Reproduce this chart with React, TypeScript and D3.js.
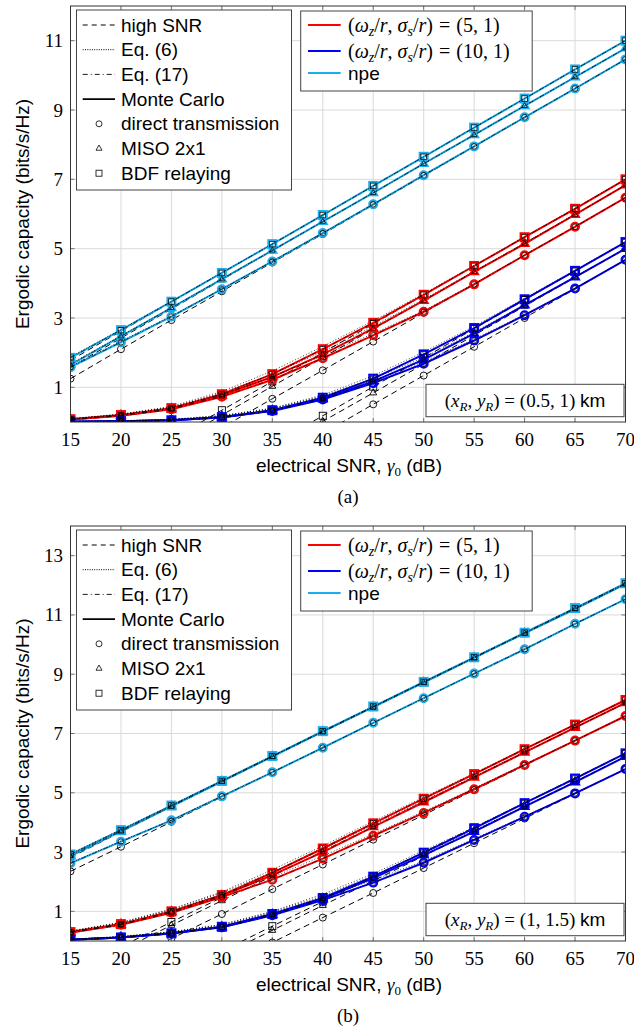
import React from 'react';
import * as d3 from 'd3';

// ---------- data ----------
const snr = [15, 20, 25, 30, 35, 40, 45, 50, 55, 60, 65, 70];
const yTicksA = [1, 3, 5, 7, 9, 11];
const yTicksB = [1, 3, 5, 7, 9, 11, 13];

// panel (a): (x_R, y_R) = (0.5, 1) km
const A_npe_dir_mc = [1.58, 2.3, 3.04, 3.83, 4.63, 5.45, 6.28, 7.12, 7.95, 8.79, 9.62, 10.46];
const A_npe_dir_hi = [1.25, 2.1, 2.94, 3.77, 4.6, 5.42, 6.26, 7.1, 7.94, 8.78, 9.62, 10.46];
const A_npe_dir_eq6 = [1.6, 2.33, 3.06, 3.84, 4.64, 5.45, 6.28, 7.12, 7.95, 8.79, 9.62, 10.46];
const A_npe_miso_mc = [1.65, 2.47, 3.29, 4.12, 4.95, 5.78, 6.61, 7.45, 8.28, 9.12, 9.95, 10.78];
const A_npe_miso_hi = [1.58, 2.42, 3.26, 4.1, 4.94, 5.78, 6.61, 7.45, 8.28, 9.12, 9.95, 10.78];
const A_npe_miso_eq6 = [1.68, 2.49, 3.3, 4.13, 4.95, 5.78, 6.61, 7.45, 8.28, 9.12, 9.95, 10.78];
const A_npe_bdf_mc = [1.85, 2.65, 3.47, 4.3, 5.13, 5.97, 6.81, 7.65, 8.49, 9.33, 10.17, 11.0];
const A_npe_bdf_hi = [1.78, 2.62, 3.46, 4.3, 5.13, 5.97, 6.81, 7.65, 8.49, 9.33, 10.17, 11.0];
const A_npe_bdf_eq6 = [1.88, 2.67, 3.48, 4.31, 5.14, 5.97, 6.81, 7.65, 8.49, 9.33, 10.17, 11.0];

const A_red_dir_mc = [0.07, 0.18, 0.37, 0.73, 1.22, 1.84, 2.5, 3.18, 3.97, 4.81, 5.63, 6.47];
const A_red_dir_hi = [-2.65, -1.82, -0.99, -0.16, 0.67, 1.49, 2.32, 3.15, 3.98, 4.81, 5.64, 6.47];
const A_red_dir_eq6 = [0.09, 0.21, 0.42, 0.8, 1.3, 1.92, 2.55, 3.21, 3.99, 4.82, 5.64, 6.47];
const A_red_miso_mc = [0.07, 0.19, 0.38, 0.77, 1.3, 1.95, 2.7, 3.5, 4.33, 5.14, 5.98, 6.83];
const A_red_miso_hi = [-2.3, -1.47, -0.64, 0.2, 1.03, 1.86, 2.68, 3.5, 4.33, 5.16, 5.99, 6.83];
const A_red_miso_eq6 = [0.09, 0.22, 0.43, 0.84, 1.38, 2.03, 2.76, 3.54, 4.35, 5.16, 5.99, 6.83];
const A_red_bdf_mc = [0.08, 0.2, 0.4, 0.8, 1.38, 2.1, 2.86, 3.67, 4.5, 5.33, 6.15, 7.0];
const A_red_bdf_hi = [-2.15, -1.32, -0.49, 0.34, 1.17, 2.0, 2.83, 3.66, 4.5, 5.33, 6.16, 7.0];
const A_red_bdf_eq6 = [0.1, 0.23, 0.45, 0.88, 1.47, 2.18, 2.92, 3.7, 4.52, 5.34, 6.16, 7.0];

const A_blue_dir_mc = [0.01, 0.02, 0.05, 0.13, 0.32, 0.65, 1.12, 1.68, 2.35, 3.08, 3.85, 4.68];
const A_blue_dir_hi = [-4.5, -3.67, -2.83, -2.0, -1.16, -0.33, 0.51, 1.34, 2.17, 3.0, 3.84, 4.68];
const A_blue_dir_eq6 = [0.02, 0.03, 0.07, 0.17, 0.38, 0.73, 1.2, 1.74, 2.39, 3.1, 3.86, 4.68];
const A_blue_miso_mc = [0.01, 0.02, 0.05, 0.14, 0.33, 0.67, 1.17, 1.8, 2.55, 3.37, 4.18, 5.0];
const A_blue_miso_hi = [-4.18, -3.35, -2.51, -1.67, -0.84, 0.02, 0.84, 1.67, 2.5, 3.34, 4.17, 5.0];
const A_blue_miso_eq6 = [0.02, 0.03, 0.07, 0.18, 0.39, 0.75, 1.25, 1.86, 2.59, 3.39, 4.19, 5.0];
const A_blue_bdf_mc = [0.01, 0.02, 0.05, 0.14, 0.34, 0.7, 1.25, 1.95, 2.71, 3.54, 4.36, 5.19];
const A_blue_bdf_hi = [-3.99, -3.16, -2.32, -1.49, -0.65, 0.18, 1.02, 1.85, 2.69, 3.52, 4.36, 5.19];
const A_blue_bdf_eq6 = [0.02, 0.04, 0.08, 0.19, 0.4, 0.78, 1.33, 2.02, 2.76, 3.57, 4.38, 5.2];

// panel (b): (x_R, y_R) = (1, 1.5) km
const B_npe_dir_mc = [2.62, 3.35, 4.07, 4.88, 5.69, 6.52, 7.36, 8.19, 9.02, 9.84, 10.7, 11.53];
const B_npe_dir_hi = [2.35, 3.18, 4.02, 4.86, 5.69, 6.52, 7.36, 8.19, 9.02, 9.86, 10.69, 11.53];
const B_npe_dir_eq6 = [2.64, 3.37, 4.08, 4.89, 5.7, 6.52, 7.36, 8.19, 9.02, 9.84, 10.7, 11.53];
const B_npe_miso_mc = [2.86, 3.7, 4.54, 5.38, 6.22, 7.06, 7.89, 8.72, 9.55, 10.38, 11.2, 12.04];
const B_npe_miso_hi = [2.82, 3.68, 4.53, 5.37, 6.21, 7.05, 7.88, 8.72, 9.55, 10.38, 11.21, 12.04];
const B_npe_miso_eq6 = [2.89, 3.72, 4.55, 5.39, 6.22, 7.06, 7.89, 8.72, 9.55, 10.38, 11.2, 12.04];
const B_npe_bdf_mc = [2.92, 3.74, 4.57, 5.4, 6.24, 7.08, 7.91, 8.74, 9.57, 10.4, 11.23, 12.07];
const B_npe_bdf_hi = [2.9, 3.73, 4.57, 5.4, 6.24, 7.07, 7.91, 8.74, 9.57, 10.4, 11.23, 12.07];
const B_npe_bdf_eq6 = [2.95, 3.76, 4.58, 5.41, 6.24, 7.08, 7.91, 8.74, 9.57, 10.4, 11.23, 12.07];

const B_red_dir_mc = [0.29, 0.55, 0.95, 1.48, 2.07, 2.78, 3.55, 4.32, 5.12, 5.94, 6.76, 7.59];
const B_red_dir_hi = [-1.58, -0.75, 0.08, 0.91, 1.75, 2.58, 3.42, 4.25, 5.09, 5.92, 6.76, 7.59];
const B_red_dir_eq6 = [0.33, 0.61, 1.03, 1.57, 2.15, 2.87, 3.61, 4.37, 5.15, 5.96, 6.77, 7.59];
const B_red_miso_mc = [0.29, 0.56, 0.98, 1.53, 2.22, 3.0, 3.85, 4.68, 5.52, 6.36, 7.2, 8.03];
const B_red_miso_hi = [-1.14, -0.31, 0.53, 1.36, 2.19, 3.03, 3.86, 4.7, 5.53, 6.36, 7.2, 8.03];
const B_red_miso_eq6 = [0.33, 0.62, 1.06, 1.63, 2.32, 3.09, 3.92, 4.73, 5.55, 6.38, 7.21, 8.03];
const B_red_bdf_mc = [0.3, 0.57, 1.0, 1.55, 2.3, 3.12, 3.97, 4.8, 5.63, 6.47, 7.3, 8.13];
const B_red_bdf_hi = [-1.02, -0.19, 0.64, 1.47, 2.3, 3.14, 3.97, 4.8, 5.63, 6.47, 7.3, 8.13];
const B_red_bdf_eq6 = [0.34, 0.63, 1.08, 1.66, 2.4, 3.21, 4.04, 4.85, 5.66, 6.49, 7.31, 8.13];

const B_blue_dir_mc = [0.04, 0.12, 0.25, 0.46, 0.87, 1.38, 1.97, 2.64, 3.41, 4.19, 4.98, 5.8];
const B_blue_dir_hi = [-3.4, -2.56, -1.73, -0.89, -0.05, 0.79, 1.62, 2.46, 3.3, 4.13, 4.97, 5.8];
const B_blue_dir_eq6 = [0.06, 0.15, 0.3, 0.53, 0.95, 1.47, 2.05, 2.7, 3.45, 4.21, 4.99, 5.8];
const B_blue_miso_mc = [0.04, 0.12, 0.26, 0.47, 0.89, 1.42, 2.12, 2.9, 3.69, 4.53, 5.36, 6.22];
const B_blue_miso_hi = [-2.98, -2.15, -1.31, -0.48, 0.36, 1.2, 2.03, 2.87, 3.7, 4.54, 5.38, 6.22];
const B_blue_miso_eq6 = [0.06, 0.15, 0.31, 0.55, 0.98, 1.52, 2.21, 2.97, 3.73, 4.55, 5.37, 6.22];
const B_blue_bdf_mc = [0.04, 0.12, 0.26, 0.48, 0.91, 1.45, 2.17, 2.98, 3.8, 4.65, 5.48, 6.33];
const B_blue_bdf_hi = [-2.84, -2.01, -1.17, -0.34, 0.5, 1.33, 2.17, 3.0, 3.83, 4.66, 5.5, 6.33];
const B_blue_bdf_eq6 = [0.06, 0.15, 0.31, 0.56, 1.0, 1.58, 2.27, 3.05, 3.84, 4.67, 5.49, 6.33];

const legendStyles = ['high SNR', 'Eq. (6)', 'Eq. (17)', 'Monte Carlo'];
const legendMarkers = ['direct transmission', 'MISO 2x1', 'BDF relaying'];

// ---------- styling ----------
const W = 634;
const H = 1029;
const X0 = 70.5;
const X1 = 625.5;
const SANS = "'Liberation Sans', Arial, Helvetica, sans-serif";
const SERIF = "'Liberation Serif', 'Times New Roman', serif";
const RED = '#ff0000';
const BLUE = '#0000ff';
const NPE = '#1badec';
const DASH = '6,4';
const DOT = '1,2';
const DASHDOT = '5,3,1,3';

type MK = 'circle' | 'triangle' | 'square';
type Series = { color: string; marker: MK; mc: number[]; hi: number[]; eq6: number[] };

const mk = (color: string, marker: MK, mc: number[], hi: number[], eq6: number[]): Series => ({ color, marker, mc, hi, eq6 });

const seriesA: Series[] = [
  mk(NPE, 'circle', A_npe_dir_mc, A_npe_dir_hi, A_npe_dir_eq6),
  mk(NPE, 'triangle', A_npe_miso_mc, A_npe_miso_hi, A_npe_miso_eq6),
  mk(NPE, 'square', A_npe_bdf_mc, A_npe_bdf_hi, A_npe_bdf_eq6),
  mk(RED, 'circle', A_red_dir_mc, A_red_dir_hi, A_red_dir_eq6),
  mk(RED, 'triangle', A_red_miso_mc, A_red_miso_hi, A_red_miso_eq6),
  mk(RED, 'square', A_red_bdf_mc, A_red_bdf_hi, A_red_bdf_eq6),
  mk(BLUE, 'circle', A_blue_dir_mc, A_blue_dir_hi, A_blue_dir_eq6),
  mk(BLUE, 'triangle', A_blue_miso_mc, A_blue_miso_hi, A_blue_miso_eq6),
  mk(BLUE, 'square', A_blue_bdf_mc, A_blue_bdf_hi, A_blue_bdf_eq6),
];
const seriesB: Series[] = [
  mk(NPE, 'circle', B_npe_dir_mc, B_npe_dir_hi, B_npe_dir_eq6),
  mk(NPE, 'triangle', B_npe_miso_mc, B_npe_miso_hi, B_npe_miso_eq6),
  mk(NPE, 'square', B_npe_bdf_mc, B_npe_bdf_hi, B_npe_bdf_eq6),
  mk(RED, 'circle', B_red_dir_mc, B_red_dir_hi, B_red_dir_eq6),
  mk(RED, 'triangle', B_red_miso_mc, B_red_miso_hi, B_red_miso_eq6),
  mk(RED, 'square', B_red_bdf_mc, B_red_bdf_hi, B_red_bdf_eq6),
  mk(BLUE, 'circle', B_blue_dir_mc, B_blue_dir_hi, B_blue_dir_eq6),
  mk(BLUE, 'triangle', B_blue_miso_mc, B_blue_miso_hi, B_blue_miso_eq6),
  mk(BLUE, 'square', B_blue_bdf_mc, B_blue_bdf_hi, B_blue_bdf_eq6),
];

function Marker({ kind, x, y, s, stroke, sw }: { kind: MK; x: number; y: number; s: number; stroke: string; sw: number }) {
  if (kind === 'circle') return <circle cx={x} cy={y} r={s / 2} fill="none" stroke={stroke} strokeWidth={sw} />;
  if (kind === 'square') return <rect x={x - s / 2} y={y - s / 2} width={s} height={s} fill="none" stroke={stroke} strokeWidth={sw} />;
  const h = s * 0.866;
  const pts = `${x - s / 2},${y + h / 3} ${x + s / 2},${y + h / 3} ${x},${y - (2 * h) / 3}`;
  return <polygon points={pts} fill="none" stroke={stroke} strokeWidth={sw} />;
}

function MathPair({ second }: { second: string }) {
  return (
    <>
      <tspan>(</tspan>
      <tspan fontStyle="italic">ω</tspan>
      <tspan fontStyle="italic" fontSize={14} dy={4}>z</tspan>
      <tspan dy={-4}>/</tspan>
      <tspan fontStyle="italic">r</tspan>
      <tspan>,</tspan>
      <tspan dx={5} fontStyle="italic">σ</tspan>
      <tspan fontStyle="italic" fontSize={14} dy={4}>s</tspan>
      <tspan dy={-4}>/</tspan>
      <tspan fontStyle="italic">r</tspan>
      <tspan>)</tspan>
      <tspan dx={6}>=</tspan>
      <tspan dx={6}>({second})</tspan>
    </>
  );
}

function Panel({ id, top, bottom, yMax, yTicks, series, note, caption }: {
  id: string; top: number; bottom: number; yMax: number; yTicks: number[]; series: Series[]; note: React.ReactNode; caption: string;
}) {
  const x = d3.scaleLinear().domain([15, 70]).range([X0, X1]);
  const y = d3.scaleLinear().domain([0, yMax]).range([bottom, top]);
  const line = (vals: number[]) =>
    d3.line<number>().x((_, i) => x(snr[i])).y((v) => y(v))(vals) || '';
  const clip = `clip-${id}`;
  const T = top;
  const lw = 24.7;
  const leftEntries = [...legendStyles, ...legendMarkers];
  const mkKinds: MK[] = ['circle', 'triangle', 'square'];

  return (
    <g>
      <defs>
        <clipPath id={clip}>
          <rect x={X0} y={top} width={X1 - X0} height={bottom - top} />
        </clipPath>
      </defs>
      {/* grid */}
      {snr.map((t) => (
        <line key={'gx' + t} x1={x(t)} x2={x(t)} y1={top} y2={bottom} stroke="#d6d6d6" strokeWidth={0.9} />
      ))}
      {yTicks.map((t) => (
        <line key={'gy' + t} x1={X0} x2={X1} y1={y(t)} y2={y(t)} stroke="#d6d6d6" strokeWidth={0.9} />
      ))}
      {/* tick marks */}
      {snr.map((t) => (
        <g key={'tx' + t}>
          <line x1={x(t)} x2={x(t)} y1={bottom} y2={bottom - 4} stroke="#555" strokeWidth={0.8} />
          <line x1={x(t)} x2={x(t)} y1={top} y2={top + 4} stroke="#555" strokeWidth={0.8} />
        </g>
      ))}
      {yTicks.map((t) => (
        <g key={'ty' + t}>
          <line x1={X0} x2={X0 + 4} y1={y(t)} y2={y(t)} stroke="#555" strokeWidth={0.8} />
          <line x1={X1} x2={X1 - 4} y1={y(t)} y2={y(t)} stroke="#555" strokeWidth={0.8} />
        </g>
      ))}
      <g clipPath={`url(#${clip})`}>
        {series.map((s, i) => (
          <path key={'hi' + i} d={line(s.hi)} fill="none" stroke="#000" strokeWidth={1} strokeDasharray={DASH} />
        ))}
        {series.map((s, i) =>
          s.hi.map((v, j) => (
            <Marker key={`hm${i}-${j}`} kind={s.marker} x={x(snr[j])} y={y(v)} s={7} stroke="#000" sw={0.9} />
          ))
        )}
        {series.map((s, i) => (
          <path key={'mc' + i} d={line(s.mc)} fill="none" stroke={s.color} strokeWidth={2} />
        ))}
        {series.map((s, i) =>
          s.mc.map((v, j) => (
            <Marker key={`mm${i}-${j}`} kind={s.marker} x={x(snr[j])} y={y(v)} s={8} stroke={s.color} sw={2} />
          ))
        )}
        {series.map((s, i) => (
          <path key={'e6' + i} d={line(s.eq6)} fill="none" stroke="#000" strokeWidth={0.75} strokeDasharray={DOT} />
        ))}
        {series.map((s, i) => (
          <path key={'e17' + i} d={line(s.mc)} fill="none" stroke="#000" strokeWidth={0.6} strokeDasharray={DASHDOT} />
        ))}
        {series.map((s, i) =>
          s.mc.map((v, j) => (
            <Marker key={`em${i}-${j}`} kind={s.marker} x={x(snr[j])} y={y(v)} s={5.5} stroke="#000" sw={0.7} />
          ))
        )}
      </g>
      {/* frame */}
      <rect x={X0} y={top} width={X1 - X0} height={bottom - top} fill="none" stroke="#333" strokeWidth={1} />
      {/* tick labels */}
      {snr.map((t) => (
        <text key={'lx' + t} x={x(t)} y={bottom + 24} textAnchor="middle" fontFamily={SERIF} fontSize={19}>
          {t}
        </text>
      ))}
      {yTicks.map((t) => (
        <text key={'ly' + t} x={63} y={y(t) + 6.5} textAnchor="end" fontFamily={SERIF} fontSize={19}>
          {t}
        </text>
      ))}
      {/* axis labels */}
      <text x={349} y={bottom + 50} textAnchor="middle" fontFamily={SANS} fontSize={19}>
        electrical SNR,{' '}
        <tspan fontFamily={SERIF} fontStyle="italic">γ</tspan>
        <tspan fontFamily={SERIF} fontSize={13} dy={4}>0</tspan>
        <tspan dy={-4}> (dB)</tspan>
      </text>
      <text
        transform={`translate(29,${(top + bottom) / 2}) rotate(-90)`}
        textAnchor="middle"
        fontFamily={SANS}
        fontSize={19}
      >
        Ergodic capacity (bits/s/Hz)
      </text>
      <text x={348} y={bottom + 81} textAnchor="middle" fontFamily={SERIF} fontSize={19}>
        {caption}
      </text>

      {/* left legend */}
      <rect x={76.5} y={T + 4} width={215} height={180} fill="#fff" stroke="#444" strokeWidth={1} />
      {leftEntries.map((lab, i) => {
        const cy = T + 19 + i * lw;
        let sample: React.ReactNode = null;
        if (i === 0) sample = <line x1={82.7} x2={115} y1={cy} y2={cy} stroke="#000" strokeWidth={1} strokeDasharray="5,4" />;
        if (i === 1) sample = <line x1={82.7} x2={115} y1={cy} y2={cy} stroke="#000" strokeWidth={1} strokeDasharray="1,1.3" />;
        if (i === 2) sample = <line x1={82.7} x2={115} y1={cy} y2={cy} stroke="#000" strokeWidth={0.9} strokeDasharray={DASHDOT} />;
        if (i === 3) sample = <line x1={82.7} x2={115} y1={cy} y2={cy} stroke="#000" strokeWidth={1.8} />;
        if (i >= 4) sample = <Marker kind={mkKinds[i - 4]} x={99} y={cy} s={6} stroke="#000" sw={0.8} />;
        return (
          <g key={'ll' + i}>
            {sample}
            <text x={121} y={cy + 6.5} fontFamily={SANS} fontSize={19}>
              {lab}
            </text>
          </g>
        );
      })}

      {/* right legend */}
      <rect x={300.7} y={T + 5} width={231.5} height={80} fill="#fff" stroke="#444" strokeWidth={1} />
      <line x1={308} x2={340.7} y1={T + 19} y2={T + 19} stroke={RED} strokeWidth={2} />
      <text x={348} y={T + 25.5} fontFamily={SERIF} fontSize={20}>
        <MathPair second="5, 1" />
      </text>
      <line x1={308} x2={340.7} y1={T + 45} y2={T + 45} stroke={BLUE} strokeWidth={2} />
      <text x={348} y={T + 51.5} fontFamily={SERIF} fontSize={20}>
        <MathPair second="10, 1" />
      </text>
      <line x1={308} x2={340.7} y1={T + 67} y2={T + 67} stroke={NPE} strokeWidth={2} />
      <text x={348} y={T + 74} fontFamily={SANS} fontSize={19}>npe</text>

      {/* annotation */}
      <rect x={426} y={bottom - 37.7} width={198} height={32.4} fill="#fff" stroke="#444" strokeWidth={1} />
      <text x={525} y={bottom - 15} textAnchor="middle" fontFamily={SERIF} fontSize={19}>
        {note}
      </text>
    </g>
  );
}

const noteA = (
  <>
    <tspan>(</tspan>
    <tspan fontStyle="italic">x</tspan>
    <tspan fontStyle="italic" fontSize={13} dy={4}>R</tspan>
    <tspan dy={-4}>, </tspan>
    <tspan fontStyle="italic">y</tspan>
    <tspan fontStyle="italic" fontSize={13} dy={4}>R</tspan>
    <tspan dy={-4}>) = (0.5, 1) </tspan>
    <tspan fontFamily={SANS}>km</tspan>
  </>
);
const noteB = (
  <>
    <tspan>(</tspan>
    <tspan fontStyle="italic">x</tspan>
    <tspan fontStyle="italic" fontSize={13} dy={4}>R</tspan>
    <tspan dy={-4}>, </tspan>
    <tspan fontStyle="italic">y</tspan>
    <tspan fontStyle="italic" fontSize={13} dy={4}>R</tspan>
    <tspan dy={-4}>) = (1, 1.5) </tspan>
    <tspan fontFamily={SANS}>km</tspan>
  </>
);

export default function App() {
  return (
    <svg
      width={W}
      height={H}
      viewBox={`0 0 ${W} ${H}`}
      style={{ position: 'absolute', left: 0, top: 0, background: '#fff' }}
    >
      <rect x={0} y={0} width={W} height={H} fill="#fff" />
      <Panel id="a" top={6} bottom={422} yMax={12} yTicks={yTicksA} series={seriesA} note={noteA} caption="(a)" />
      <Panel id="b" top={526} bottom={941} yMax={14} yTicks={yTicksB} series={seriesB} note={noteB} caption="(b)" />
    </svg>
  );
}
